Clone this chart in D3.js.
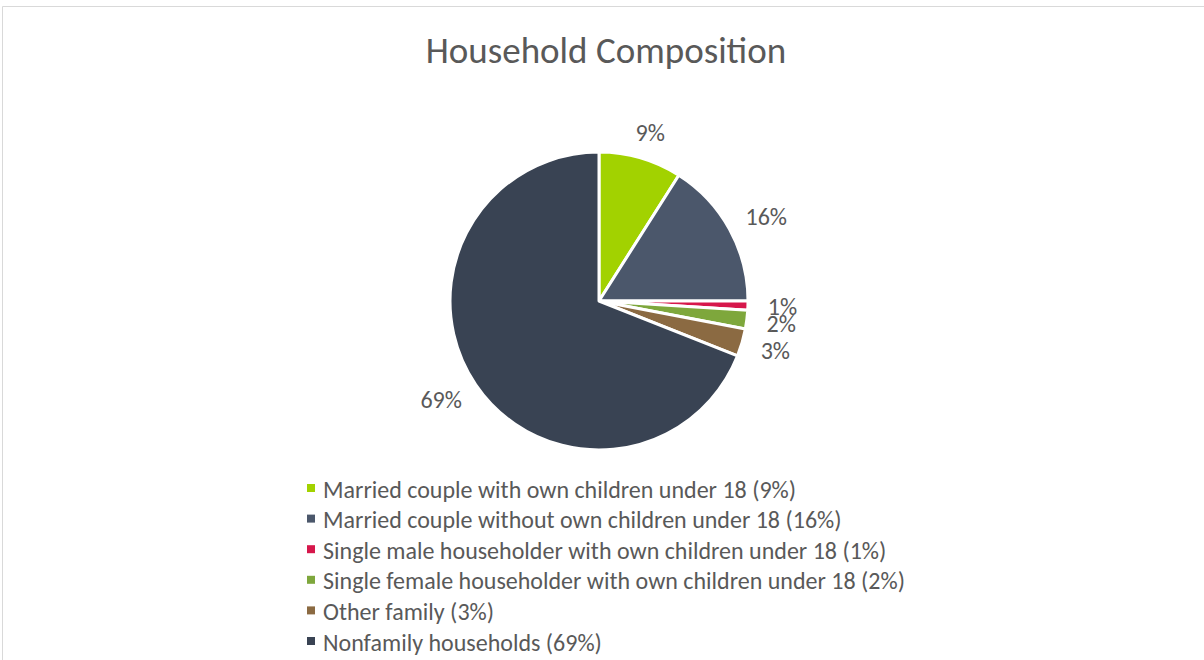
<!DOCTYPE html>
<html>
<head>
<meta charset="utf-8">
<script src="https://cdn.jsdelivr.net/npm/d3@7"></script>
<style>
  html, body { margin: 0; padding: 0; background: #fff; }
  svg { display: block; font-family: Carlito, Lato, "Open Sans", sans-serif; }
</style>
</head>
<body>
<div id="chart"></div>
<script>
// Chart data
const categories = [
    'Married couple with own children under 18',
    'Married couple without own children under 18',
    'Single male householder with own children under 18',
    'Single female householder with own children under 18',
    'Other family',
    'Nonfamily households'
];
const shares = [9, 16, 1, 2, 3, 69];
const pctLabels = ['9%', '16%', '1%', '2%', '3%', '69%'];
const colors = ['#a2d200', '#4b576b', '#d6174b', '#7ea73c', '#8b6a42', '#394353'];

// Dimensions
const W = 1204, H = 660;
const cx = 599, cy = 301, r = 149;

const svg = d3.select('#chart')
    .append('svg')
    .attr('width', W)
    .attr('height', H);

// Chart frame (top and left edges visible)
svg.append('path')
    .attr('d', `M2.5,${H} V6.5 H${W}`)
    .attr('fill', 'none')
    .attr('stroke', '#d9d9d9')
    .attr('stroke-width', 1);

// Title
svg.append('text')
    .attr('x', 606)
    .attr('y', 63)
    .attr('text-anchor', 'middle')
    .attr('font-size', 37)
    .attr('fill', '#595959')
    .text('Household Composition');

// Pie
const pie = d3.pie().sort(null).value(d => d);
const arcs = pie(shares);
const arc = d3.arc().innerRadius(0).outerRadius(r);

const g = svg.append('g').attr('transform', `translate(${cx},${cy})`);

g.selectAll('path.slice')
    .data(arcs)
    .join('path')
    .attr('class', 'slice')
    .attr('d', arc)
    .attr('fill', (d, i) => colors[i])
    .attr('stroke', '#fff')
    .attr('stroke-width', 3)
    .attr('stroke-linejoin', 'round');

// Outside-end data labels
const labelR = r + 17;
const labels = g.selectAll('text.lbl')
    .data(arcs)
    .join('text')
    .attr('class', 'lbl')
    .attr('font-size', 24)
    .attr('fill', '#595959')
    .attr('text-anchor', 'middle')
    .attr('dominant-baseline', 'central')
    .text((d, i) => pctLabels[i]);

labels.each(function(d) {
    const a = (d.startAngle + d.endAngle) / 2;
    const sx = Math.sin(a), sy = -Math.cos(a);
    const hw = this.getBBox().width / 2 * 1.2, hh = 10;
    d3.select(this)
        .attr('x', (labelR + hw) * sx)
        .attr('y', (labelR + hh) * sy);
});

// Legend
const legend = svg.append('g').attr('transform', 'translate(307,488)');
const rows = legend.selectAll('g')
    .data(categories)
    .join('g')
    .attr('transform', (d, i) => `translate(0,${i * 30.6})`);

rows.append('rect')
    .attr('x', 0)
    .attr('y', -4)
    .attr('width', 8)
    .attr('height', 8)
    .attr('fill', (d, i) => colors[i]);

rows.append('text')
    .attr('x', 16)
    .attr('y', 1)
    .attr('dominant-baseline', 'central')
    .attr('font-size', 24)
    .attr('fill', '#595959')
    .text((d, i) => `${d} (${pctLabels[i]})`);
</script>
</body>
</html>
